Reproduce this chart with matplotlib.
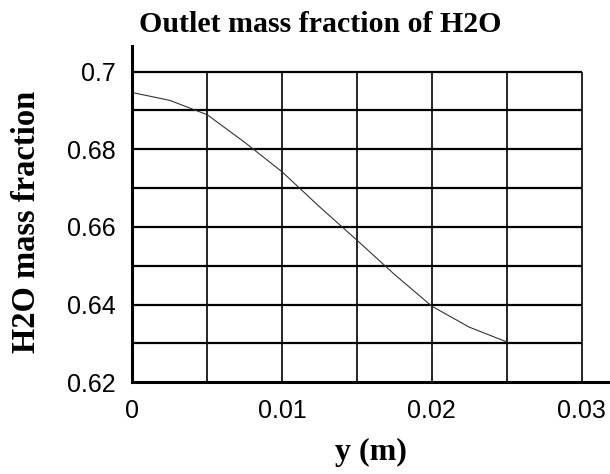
import numpy as np
import matplotlib
matplotlib.use("Agg")
import matplotlib.pyplot as plt

# outlet H2O mass fraction along y
y_pos = [0, 0.0025, 0.005, 0.0075, 0.01, 0.0125, 0.015, 0.0175, 0.02, 0.0225, 0.025]
h2o_frac = [0.6946, 0.6926, 0.6889, 0.6818, 0.6742, 0.6652, 0.6566, 0.6478, 0.6396, 0.6342, 0.6304]

xticks = [0, 0.01, 0.02, 0.03]
xtick_labels = ["0", "0.01", "0.02", "0.03"]
yticks = [0.62, 0.64, 0.66, 0.68, 0.70]
ytick_labels = ["0.62", "0.64", "0.66", "0.68", "0.7"]

fig = plt.figure(figsize=(6.1, 4.74), dpi=100)
ax = fig.add_axes([0.2169, 0.1935, 0.7831, 0.7095])

ax.set_xlim(0, 0.0319)
ax.set_ylim(0.62, 0.7066)

# grid box only covers 0..0.03 x 0.62..0.7
ax.hlines(np.arange(0.63, 0.7001, 0.01), 0, 0.03, colors="black", lw=1.6, zorder=1)
ax.vlines(np.arange(0.005, 0.0301, 0.005), 0.62, 0.70, colors="black", lw=1.2, zorder=1)

ax.plot(y_pos, h2o_frac, color="#333333", lw=0.8, zorder=2)

for s in ["top", "right"]:
    ax.spines[s].set_visible(False)
for s in ["left", "bottom"]:
    ax.spines[s].set_linewidth(2.2)

ax.set_xticks(xticks)
ax.set_xticklabels(xtick_labels)
ax.set_yticks(yticks)
ax.set_yticklabels(ytick_labels)
ax.tick_params(length=0, pad=12)
for lab in ax.get_xticklabels() + ax.get_yticklabels():
    lab.set_fontfamily("Liberation Sans")
    lab.set_fontsize(18)
    lab.set_fontweight("light")

bold = dict(family="Liberation Serif", weight="bold")
ax.set_xlabel("y (m)", labelpad=11, size=23, **bold)
ax.set_ylabel("H2O mass fraction", size=23.5, **bold)
ax.yaxis.set_label_coords(-0.19, 0.476)
fig.text(320 / 610, 1 - 24 / 474, "Outlet mass fraction of H2O", ha="center", va="center",
         size=21.5, **bold)

fig.savefig("out.png", dpi=100)
